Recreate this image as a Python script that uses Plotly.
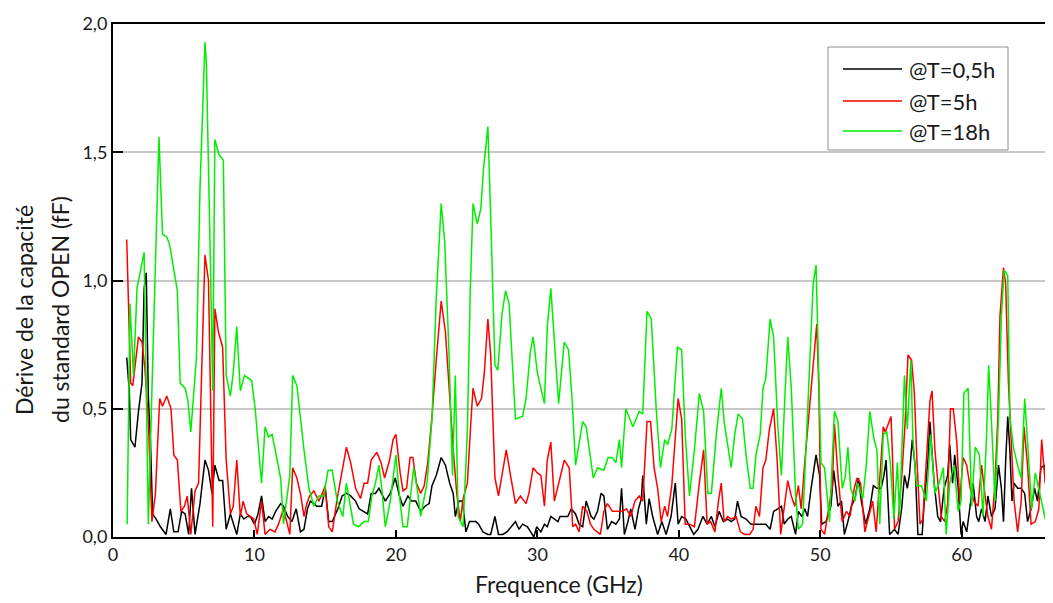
import plotly.graph_objects as go

# ---------------- data ----------------
black_x = [0.97, 1.15, 1.25, 1.55, 1.8, 2.05, 2.2, 2.35, 2.5, 2.65,
           2.8, 3.05, 3.35, 3.75, 4.05, 4.3, 4.6, 4.85, 5.1, 5.35,
           5.55, 5.8, 6.15, 6.5, 6.75, 7.0, 7.2, 7.5, 7.75, 8.0,
           8.3, 8.5, 8.75, 9.0, 9.25, 9.5, 9.7, 10.0, 10.25, 10.5,
           10.75, 11.0, 11.25, 11.5, 11.85, 12.05, 12.35, 12.65, 12.95, 13.25,
           13.5, 13.75, 13.95, 14.2, 14.4, 14.75, 15.0, 15.25, 15.5, 15.9,
           16.2, 16.5, 16.8, 17.15, 17.4, 17.7, 18.0, 18.25, 18.55, 18.8,
           19.0, 19.25, 19.6, 19.95, 20.25, 20.5, 20.85, 21.1, 21.4, 21.75,
           22.05, 22.35, 22.55, 22.85, 23.2, 23.5, 23.8, 24.05, 24.2, 24.45,
           24.7, 24.95, 25.2, 25.45, 25.65, 25.85, 26.15, 26.5, 26.7, 27.0,
           27.25, 27.55, 27.85, 28.15, 28.45, 28.7, 28.95, 29.3, 29.55, 29.75,
           29.95, 30.25, 30.5, 30.7, 30.95, 31.2, 31.45, 31.6, 31.9, 32.15,
           32.4, 32.7, 32.95, 33.2, 33.45, 33.8, 34.0, 34.25, 34.5, 34.7,
           34.95, 35.25, 35.55, 35.8, 35.95, 36.15, 36.4, 36.6, 36.9, 37.15,
           37.35, 37.45, 37.7, 37.9, 38.15, 38.5, 38.8, 39.1, 39.45, 39.75,
           39.95, 40.2, 40.5, 40.75, 41.05, 41.35, 41.7, 42.0, 42.3, 42.55,
           42.85, 43.15, 43.45, 43.7, 43.95, 44.15, 44.4, 44.75, 45.1, 45.45,
           45.8, 46.15, 46.45, 46.7, 47.0, 47.25, 47.45, 47.7, 47.95, 48.25,
           48.45, 48.7, 48.9, 49.1, 49.35, 49.7, 49.95, 50.1, 50.4, 50.75,
           50.95, 51.25, 51.5, 51.7, 51.95, 52.2, 52.45, 52.7, 52.9, 53.2,
           53.5, 53.75, 54.0, 54.3, 54.5, 54.65, 54.9, 55.25, 55.5, 55.75,
           55.95, 56.15, 56.3, 56.5, 56.7, 56.9, 57.2, 57.35, 57.6, 57.75,
           57.85, 58.05, 58.3, 58.5, 58.75, 59.0, 59.15, 59.35, 59.5, 59.75,
           59.95, 60.1, 60.35, 60.6, 60.8, 61.05, 61.2, 61.4, 61.65, 61.85,
           62.1, 62.35, 62.6, 62.8, 62.95, 63.1, 63.25, 63.4, 63.55, 63.7,
           63.95, 64.2, 64.45, 64.65, 64.9, 65.15, 65.35, 65.6, 65.85, 66.1,
           66.35, 66.6]
black_y = [0.70, 0.57, 0.38, 0.35, 0.49, 0.60, 0.97, 1.03, 0.55, 0.37,
           0.09, 0.07, 0.04, 0.01, 0.11, 0.02, 0.02, 0.10, 0.09, 0.01,
           0.19, 0.01, 0.13, 0.30, 0.26, 0.17, 0.28, 0.22, 0.22, 0.03,
           0.09, 0.05, 0.01, 0.09, 0.07, 0.08, 0.08, 0.05, 0.09, 0.16,
           0.06, 0.08, 0.07, 0.10, 0.13, 0.12, 0.08, 0.06, 0.11, 0.02,
           0.03, 0.11, 0.14, 0.13, 0.12, 0.12, 0.19, 0.06, 0.06, 0.11,
           0.16, 0.17, 0.16, 0.14, 0.11, 0.10, 0.09, 0.17, 0.17, 0.19,
           0.17, 0.14, 0.17, 0.23, 0.16, 0.12, 0.16, 0.14, 0.14, 0.10,
           0.12, 0.13, 0.20, 0.24, 0.31, 0.28, 0.21, 0.17, 0.08, 0.14,
           0.14, 0.02, 0.06, 0.06, 0.06, 0.05, 0.02, 0.01, 0.01, 0.08,
           0.01, 0.01, 0.02, 0.04, 0.06, 0.03, 0.05, 0.04, 0.02, 0.00,
           0.04, 0.02, 0.05, 0.04, 0.08, 0.07, 0.06, 0.08, 0.08, 0.08,
           0.11, 0.09, 0.05, 0.04, 0.14, 0.08, 0.07, 0.10, 0.17, 0.16,
           0.03, 0.06, 0.05, 0.07, 0.19, 0.01, 0.06, 0.11, 0.03, 0.11,
           0.15, 0.24, 0.05, 0.15, 0.08, 0.01, 0.06, 0.01, 0.08, 0.21,
           0.05, 0.08, 0.07, 0.04, 0.01, 0.03, 0.08, 0.05, 0.08, 0.04,
           0.10, 0.06, 0.07, 0.06, 0.07, 0.14, 0.08, 0.07, 0.05, 0.05,
           0.05, 0.05, 0.03, 0.10, 0.11, 0.12, 0.05, 0.07, 0.08, 0.01,
           0.10, 0.08, 0.11, 0.08, 0.19, 0.32, 0.24, 0.05, 0.06, 0.12,
           0.26, 0.12, 0.14, 0.01, 0.06, 0.12, 0.15, 0.23, 0.14, 0.05,
           0.11, 0.20, 0.19, 0.19, 0.24, 0.30, 0.01, 0.03, 0.01, 0.11,
           0.24, 0.19, 0.24, 0.38, 0.28, 0.01, 0.01, 0.14, 0.29, 0.45,
           0.37, 0.21, 0.08, 0.06, 0.19, 0.24, 0.36, 0.21, 0.32, 0.19,
           0.01, 0.06, 0.02, 0.12, 0.21, 0.08, 0.06, 0.11, 0.06, 0.16,
           0.08, 0.11, 0.28, 0.19, 0.06, 0.29, 0.47, 0.34, 0.14, 0.21,
           0.19, 0.19, 0.17, 0.06, 0.11, 0.19, 0.14, 0.27, 0.28, 0.05,
           0.19, 0.31]

red_x = [0.97, 1.1, 1.25, 1.4, 1.55, 1.8, 2.05, 2.25, 2.5, 2.75,
         3.0, 3.3, 3.5, 3.8, 4.1, 4.3, 4.55, 4.8, 5.05, 5.25,
         5.5, 5.8, 6.05, 6.25, 6.5, 6.75, 6.9, 7.05, 7.2, 7.45,
         7.75, 8.0, 8.3, 8.5, 8.75, 9.0, 9.2, 9.45, 9.7, 9.95,
         10.2, 10.5, 10.75, 11.1, 11.45, 11.7, 12.05, 12.5, 12.7, 13.0,
         13.25, 13.5, 13.7, 13.9, 14.2, 14.55, 14.8, 15.0, 15.25, 15.5,
         15.85, 16.2, 16.5, 16.8, 17.15, 17.5, 17.75, 18.0, 18.25, 18.65,
         18.95, 19.2, 19.55, 19.8, 20.0, 20.3, 20.5, 20.75, 21.0, 21.2,
         21.45, 21.75, 22.0, 22.25, 22.55, 22.85, 23.2, 23.5, 23.8, 24.05,
         24.3, 24.55, 24.75, 25.05, 25.3, 25.45, 25.75, 26.05, 26.25, 26.5,
         26.7, 27.0, 27.25, 27.5, 27.8, 28.1, 28.45, 28.8, 29.2, 29.4,
         29.7, 30.0, 30.25, 30.5, 30.7, 30.95, 31.2, 31.6, 31.9, 32.25,
         32.5, 32.7, 32.95, 33.2, 33.5, 33.75, 34.0, 34.45, 34.7, 34.95,
         35.3, 35.65, 36.0, 36.3, 36.6, 36.9, 37.2, 37.45, 37.75, 38.0,
         38.25, 38.5, 38.75, 39.0, 39.2, 39.5, 39.75, 39.95, 40.2, 40.45,
         40.75, 41.1, 41.45, 41.75, 42.0, 42.25, 42.55, 42.8, 43.0, 43.2,
         43.45, 43.7, 44.05, 44.35, 44.65, 45.0, 45.25, 45.45, 45.7, 45.95,
         46.15, 46.4, 46.7, 46.95, 47.2, 47.45, 47.7, 47.95, 48.2, 48.45,
         48.65, 48.9, 49.1, 49.35, 49.6, 49.75, 49.9, 50.05, 50.3, 50.6,
         50.85, 51.0, 51.25, 51.55, 51.85, 52.1, 52.4, 52.6, 52.85, 53.15,
         53.4, 53.7, 53.95, 54.2, 54.45, 54.6, 54.8, 55.0, 55.1, 55.25,
         55.5, 55.8, 56.0, 56.2, 56.45, 56.65, 56.8, 57.05, 57.25, 57.5,
         57.75, 57.9, 58.1, 58.35, 58.55, 58.8, 59.0, 59.2, 59.4, 59.65,
         59.85, 60.1, 60.35, 60.6, 60.85, 61.15, 61.4, 61.65, 61.85, 62.1,
         62.35, 62.55, 62.7, 62.95, 63.1, 63.3, 63.55, 63.7, 63.95, 64.2,
         64.4, 64.65, 64.9, 65.2, 65.45, 65.65, 65.9, 66.15, 66.35, 66.6]
red_y = [1.16, 0.92, 0.60, 0.59, 0.67, 0.78, 0.76, 0.66, 0.45, 0.06,
         0.17, 0.54, 0.51, 0.55, 0.50, 0.32, 0.30, 0.10, 0.12, 0.16,
         0.01, 0.18, 0.21, 0.63, 1.10, 1.00, 0.43, 0.04, 0.89, 0.80,
         0.74, 0.30, 0.09, 0.12, 0.30, 0.08, 0.14, 0.09, 0.08, 0.07,
         0.01, 0.14, 0.01, 0.03, 0.02, 0.05, 0.11, 0.01, 0.27, 0.23,
         0.17, 0.08, 0.13, 0.16, 0.18, 0.14, 0.17, 0.20, 0.04, 0.02,
         0.15, 0.25, 0.35, 0.29, 0.19, 0.15, 0.21, 0.21, 0.30, 0.33,
         0.29, 0.23, 0.30, 0.38, 0.40, 0.25, 0.18, 0.19, 0.31, 0.31,
         0.21, 0.17, 0.20, 0.29, 0.47, 0.69, 0.92, 0.80, 0.54, 0.34,
         0.17, 0.06, 0.15, 0.21, 0.45, 0.58, 0.51, 0.54, 0.64, 0.85,
         0.71, 0.23, 0.16, 0.25, 0.34, 0.24, 0.13, 0.16, 0.13, 0.17,
         0.27, 0.25, 0.24, 0.12, 0.30, 0.37, 0.14, 0.23, 0.30, 0.27,
         0.04, 0.05, 0.02, 0.12, 0.10, 0.05, 0.03, 0.01, 0.10, 0.13,
         0.10, 0.10, 0.10, 0.11, 0.08, 0.14, 0.16, 0.14, 0.45, 0.45,
         0.27, 0.19, 0.06, 0.12, 0.08, 0.20, 0.40, 0.54, 0.46, 0.05,
         0.05, 0.04, 0.21, 0.34, 0.05, 0.06, 0.02, 0.14, 0.21, 0.06,
         0.08, 0.07, 0.08, 0.02, 0.01, 0.01, 0.03, 0.12, 0.08, 0.27,
         0.30, 0.42, 0.50, 0.30, 0.01, 0.12, 0.22, 0.16, 0.12, 0.20,
         0.11, 0.29, 0.42, 0.60, 0.73, 0.83, 0.58, 0.03, 0.01, 0.12,
         0.20, 0.44, 0.24, 0.06, 0.10, 0.08, 0.19, 0.23, 0.21, 0.02,
         0.08, 0.14, 0.02, 0.21, 0.43, 0.41, 0.44, 0.47, 0.32, 0.03,
         0.06, 0.27, 0.45, 0.71, 0.69, 0.56, 0.34, 0.05, 0.07, 0.32,
         0.53, 0.57, 0.34, 0.19, 0.08, 0.06, 0.13, 0.50, 0.50, 0.37,
         0.14, 0.31, 0.28, 0.19, 0.14, 0.12, 0.28, 0.16, 0.08, 0.03,
         0.21, 0.47, 0.86, 1.05, 0.99, 0.60, 0.27, 0.14, 0.02, 0.14,
         0.43, 0.28, 0.05, 0.06, 0.11, 0.38, 0.21, 0.45, 0.40, 0.29]

green_x = [1.0, 1.2, 1.45, 1.7, 2.2, 2.5, 2.75, 3.25, 3.5, 3.8,
           4.0, 4.55, 4.75, 5.1, 5.3, 5.5, 5.9, 6.15, 6.5, 6.6,
           6.9, 7.05, 7.2, 7.5, 7.8, 8.0, 8.3, 8.5, 8.75, 9.0,
           9.3, 9.8, 10.05, 10.5, 10.75, 11.0, 11.25, 11.85, 12.05, 12.5,
           12.7, 13.0, 13.5, 13.85, 14.2, 14.55, 14.9, 15.2, 15.5, 15.85,
           16.25, 16.5, 17.0, 17.35, 17.75, 18.05, 18.3, 18.55, 18.8, 19.0,
           19.25, 19.6, 20.0, 20.25, 20.5, 20.8, 21.25, 21.5, 21.75, 22.2,
           22.55, 22.85, 23.2, 23.45, 23.75, 24.0, 24.2, 24.4, 24.75, 25.05,
           25.25, 25.45, 25.75, 26.0, 26.2, 26.5, 26.7, 27.0, 27.2, 27.5,
           27.75, 28.0, 28.45, 28.95, 29.2, 29.5, 29.7, 30.0, 30.5, 30.7,
           30.95, 31.25, 31.5, 31.9, 32.2, 32.45, 32.7, 33.2, 33.45, 33.95,
           34.25, 34.7, 35.0, 35.3, 35.55, 35.8, 35.95, 36.25, 36.75, 37.2,
           37.45, 37.75, 38.05, 38.4, 38.7, 39.0, 39.2, 39.5, 39.9, 40.2,
           40.45, 40.75, 41.1, 41.45, 41.75, 42.05, 42.3, 42.65, 43.0, 43.2,
           43.7, 43.95, 44.2, 44.5, 44.75, 45.05, 45.25, 45.45, 45.75, 45.95,
           46.15, 46.45, 46.7, 47.0, 47.25, 47.5, 47.7, 47.95, 48.25, 48.45,
           48.75, 49.0, 49.25, 49.5, 49.7, 49.9, 50.05, 50.3, 50.65, 51.0,
           51.25, 51.55, 51.75, 51.95, 52.15, 52.45, 52.65, 53.0, 53.25, 53.5,
           53.8, 54.0, 54.2, 54.45, 54.7, 54.95, 55.2, 55.45, 55.6, 55.95,
           56.15, 56.4, 56.55, 56.8, 57.15, 57.5, 57.8, 58.1, 58.4, 58.7,
           58.9, 59.15, 59.45, 59.75, 59.95, 60.15, 60.45, 60.7, 60.95, 61.25,
           61.5, 61.75, 61.9, 62.1, 62.35, 62.6, 62.8, 63.0, 63.25, 63.4,
           63.65, 63.9, 64.2, 64.45, 64.7, 64.95, 65.2, 65.45, 65.65, 65.9,
           66.15, 66.35, 66.6]
green_y = [0.05, 0.91, 0.63, 0.97, 1.11, 0.05, 0.57, 1.56, 1.18, 1.17,
           1.14, 0.96, 0.60, 0.58, 0.53, 0.41, 0.70, 1.36, 1.93, 1.85,
           1.03, 0.57, 1.55, 1.49, 1.47, 0.63, 0.55, 0.64, 0.82, 0.57,
           0.63, 0.61, 0.50, 0.21, 0.43, 0.39, 0.40, 0.23, 0.05, 0.24,
           0.63, 0.59, 0.34, 0.19, 0.12, 0.16, 0.16, 0.26, 0.26, 0.14,
           0.08, 0.21, 0.05, 0.04, 0.06, 0.06, 0.16, 0.21, 0.28, 0.19,
           0.04, 0.14, 0.32, 0.16, 0.04, 0.04, 0.27, 0.19, 0.08, 0.21,
           0.46, 0.93, 1.30, 1.15, 0.72, 0.24, 0.63, 0.08, 0.04, 0.41,
           0.95, 1.30, 1.22, 1.28, 1.44, 1.60, 1.25, 0.67, 0.65, 0.87,
           0.96, 0.91, 0.46, 0.47, 0.54, 0.72, 0.78, 0.64, 0.52, 0.82,
           0.97, 0.72, 0.52, 0.76, 0.73, 0.54, 0.28, 0.45, 0.43, 0.23,
           0.27, 0.26, 0.31, 0.31, 0.29, 0.38, 0.27, 0.50, 0.43, 0.49,
           0.48, 0.88, 0.85, 0.50, 0.27, 0.38, 0.36, 0.42, 0.74, 0.73,
           0.40, 0.16, 0.34, 0.56, 0.49, 0.17, 0.17, 0.40, 0.58, 0.45,
           0.27, 0.40, 0.48, 0.46, 0.32, 0.19, 0.19, 0.32, 0.40, 0.58,
           0.62, 0.85, 0.78, 0.43, 0.24, 0.55, 0.78, 0.58, 0.17, 0.03,
           0.05, 0.36, 0.71, 0.99, 1.06, 0.60, 0.29, 0.27, 0.06, 0.49,
           0.45, 0.19, 0.23, 0.35, 0.19, 0.14, 0.21, 0.15, 0.28, 0.49,
           0.38, 0.34, 0.05, 0.40, 0.41, 0.29, 0.07, 0.29, 0.08, 0.63,
           0.42, 0.69, 0.38, 0.20, 0.20, 0.14, 0.40, 0.17, 0.21, 0.27,
           0.01, 0.21, 0.28, 0.10, 0.14, 0.56, 0.58, 0.12, 0.35, 0.32,
           0.08, 0.39, 0.67, 0.45, 0.14, 0.47, 0.86, 1.04, 1.02, 0.47,
           0.35, 0.29, 0.23, 0.54, 0.34, 0.11, 0.25, 0.19, 0.14, 0.07,
           0.41, 0.24, 0.17]

series_names = ["@T=0,5h", "@T=5h", "@T=18h"]
series_colors = ["#000000", "#ff0000", "#00ee00"]
x_tick_vals = [0, 10, 20, 30, 40, 50, 60]
y_tick_vals = [0.0, 0.5, 1.0, 1.5, 2.0]
x_title = "Frequence (GHz)"
y_title_lines = ["Dérive de la capacité", "du standard OPEN (fF)"]

# ---------------- figure ----------------
# The page body has an 8px margin, so the figure is drawn 8px smaller and
# every reference pixel position is shifted by 8px.
OFF = 8
W, H = 1053 - OFF, 603 - OFF
L, R, T, B = 113 - OFF, 0, 24 - OFF, 603 - 537
PW, PH = W - L - R, H - T - B
FONT = "Lato, 'Open Sans', sans-serif"
TXT = "#1a1a1a"


def px_x(p):
    return (p - OFF - L) / PW


def px_y(p):
    return (H - B - (p - OFF)) / PH


fig = go.Figure()
for xs, ys, name, col in zip([black_x, red_x, green_x], [black_y, red_y, green_y],
                             series_names, series_colors):
    n = min(len(xs), len(ys))
    fig.add_trace(go.Scatter(x=xs[:n], y=ys[:n], mode="lines", name=name,
                             line=dict(color=col, width=1.5), showlegend=False))

fig.update_layout(
    width=W, height=H,
    margin=dict(l=L, r=R, t=T, b=B),
    paper_bgcolor="white", plot_bgcolor="white",
    separators=", ",
    font=dict(family=FONT, size=18, color=TXT),
    xaxis=dict(range=[0, 66.45], tickvals=x_tick_vals, showgrid=False,
               zeroline=False, showline=True, linecolor="black", linewidth=2,
               mirror=True, ticks="inside", ticklen=7, tickwidth=2,
               tickcolor="black", tickfont=dict(size=18, color=TXT)),
    yaxis=dict(range=[0, 2.0], tickvals=y_tick_vals, tickformat=".1f",
               showgrid=True, gridcolor="#c8c8c8", gridwidth=1.5,
               zeroline=False, showline=True, linecolor="black", linewidth=2,
               ticks="inside", ticklen=10, tickwidth=2, tickcolor="black",
               tickfont=dict(size=18, color=TXT)),
)

annotations = [
    dict(text=x_title, xref="paper", yref="paper", x=px_x(559), y=px_y(584),
         xanchor="center", yanchor="middle", showarrow=False,
         font=dict(size=23, family=FONT, color=TXT)),
]
for xx, line in zip([24, 60], y_title_lines):
    annotations.append(dict(text=line, xref="paper", yref="paper", x=px_x(xx), y=px_y(310),
                            xanchor="center", yanchor="middle", showarrow=False,
                            textangle=-90, font=dict(size=23, family=FONT, color=TXT)))

# manual legend (box, line samples, labels)
shapes = [dict(type="rect", xref="paper", yref="paper",
               x0=px_x(828), x1=px_x(1008), y0=px_y(150), y1=px_y(47),
               line=dict(color="#8c8c8c", width=1), fillcolor="white", layer="above")]
legend_rows = [69, 101, 131]
for yy, name, col in zip(legend_rows, series_names, series_colors):
    shapes.append(dict(type="line", xref="paper", yref="paper",
                       x0=px_x(843), x1=px_x(902), y0=px_y(yy), y1=px_y(yy),
                       line=dict(color=col, width=1.5), layer="above"))
    annotations.append(dict(text=name, xref="paper", yref="paper",
                            x=px_x(907), y=px_y(yy), xanchor="left", yanchor="middle",
                            showarrow=False, font=dict(size=22, family=FONT, color=TXT)))

fig.update_layout(shapes=shapes, annotations=annotations)
fig.write_html("out.html")
